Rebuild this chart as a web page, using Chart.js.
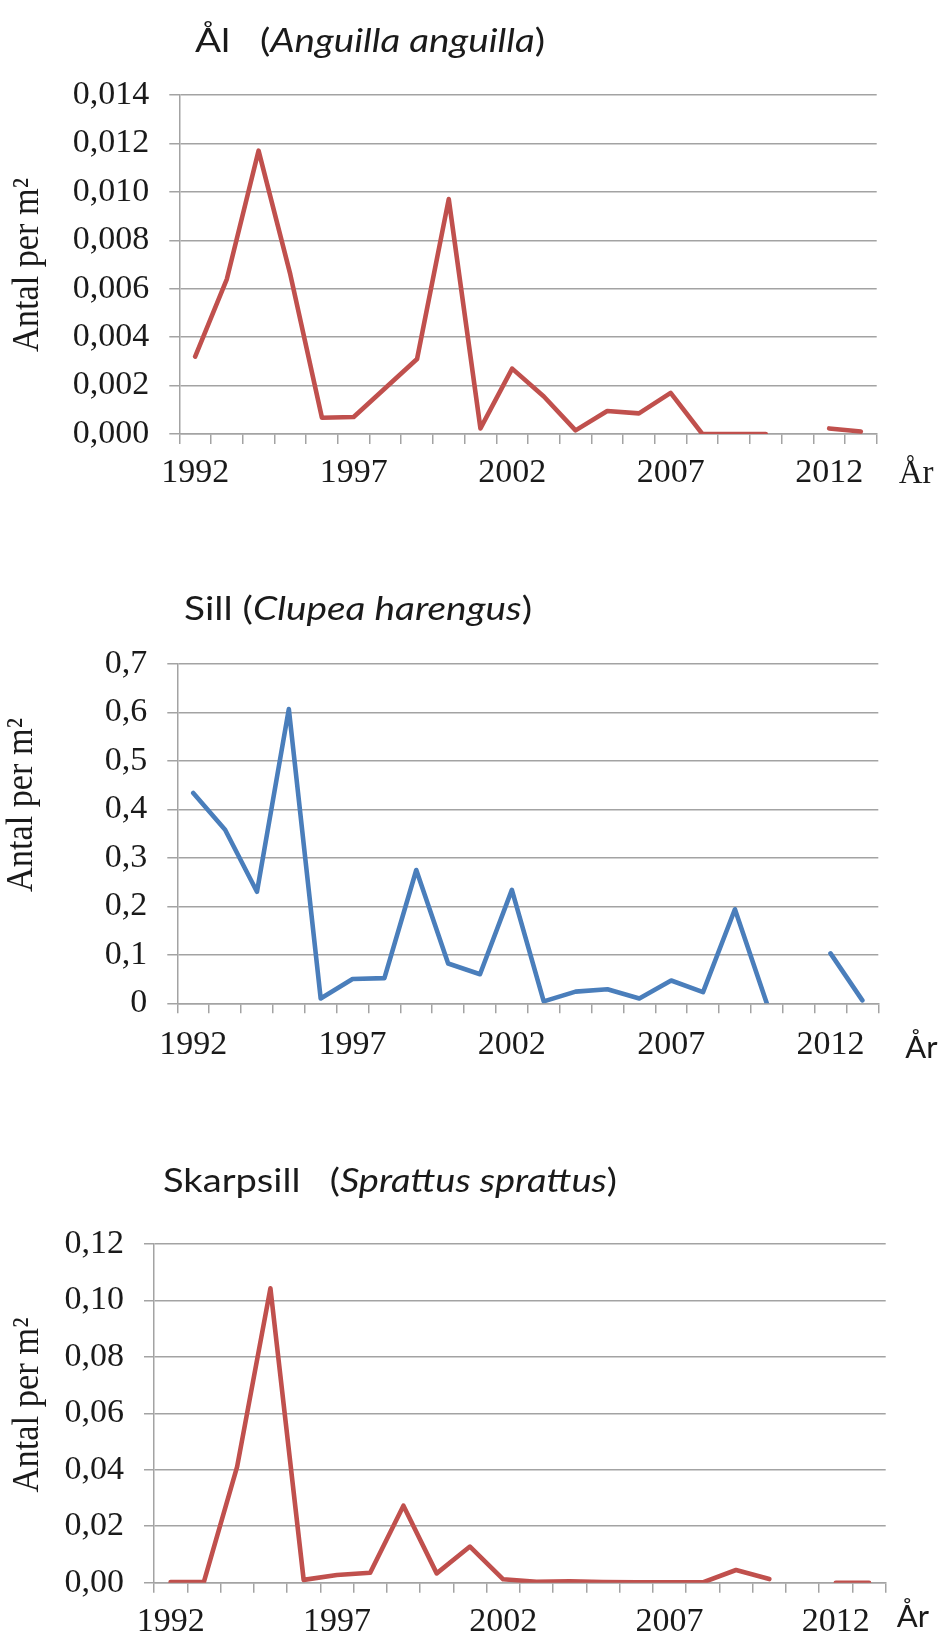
<!DOCTYPE html>
<html>
<head>
<meta charset="utf-8">
<script src="https://cdn.jsdelivr.net/npm/chart.js@4.4.1/dist/chart.umd.min.js"></script>
<style>
  html, body { margin: 0; padding: 0; background: #fff; }
  #page { position: relative; width: 940px; height: 1638px; overflow: hidden; }
  canvas { position: absolute; left: 0; }
</style>
</head>
<body>
<div id="page">
  <canvas id="alChart" width="940" height="520" style="top:0px"></canvas>
  <canvas id="sillChart" width="940" height="530" style="top:560px"></canvas>
  <canvas id="skarpChart" width="940" height="498" style="top:1140px"></canvas>
</div>
<script>
// years on the category axis, only every fifth one gets a label
const years = [1992, 1993, 1994, 1995, 1996, 1997, 1998, 1999, 2000, 2001, 2002,
               2003, 2004, 2005, 2006, 2007, 2008, 2009, 2010, 2011, 2012, 2013];
const shownYears = [1992, 1997, 2002, 2007, 2012];

// Ål (Anguilla anguilla), antal per m2
const al = [0.0032, 0.0064, 0.0117, 0.0066, 0.00067, 0.0007, 0.0019, 0.0031, 0.0097, 0.00023, 0.0027,
            0.00155, 0.00015, 0.00095, 0.00085, 0.0017, 0, 0, 0, null, 0.00023, 0.0001];
// Sill (Clupea harengus)
const sill = [0.434, 0.358, 0.230, 0.607, 0.010, 0.050, 0.052, 0.275, 0.082, 0.060, 0.234,
              0.004, 0.024, 0.029, 0.010, 0.047, 0.023, 0.194, 0, null, 0.103, 0.006];
// Skarpsill (Sprattus sprattus)
const skarpsill = [0.0002, 0.0003, 0.0411, 0.1043, 0.001, 0.0027, 0.0035, 0.0273, 0.0033, 0.0128, 0.0012,
                   0.0003, 0.0005, 0.0002, 0.0001, 0.0001, 0.0001, 0.0045, 0.0013, null, 0, 0];

const alTicks = ['0,000', '0,002', '0,004', '0,006', '0,008', '0,010', '0,012', '0,014'];
const sillTicks = ['0', '0,1', '0,2', '0,3', '0,4', '0,5', '0,6', '0,7'];
const skarpTicks = ['0,00', '0,02', '0,04', '0,06', '0,08', '0,10', '0,12'];

const RED = '#c0504d';
const BLUE = '#4a7ebb';
const GRID = '#a3a3a3';
const INK = '#1a1a1a';
const SERIF = '"Liberation Serif", "Times New Roman", serif';
const SANS = 'Lato, "Open Sans", sans-serif';

Chart.defaults.animation = false;

// species title (regular + italic parts), y axis title and the "År" label
const extraText = {
  id: 'extraText',
  afterDraw(chart, args, o) {
    const ctx = chart.ctx;
    const a = chart.chartArea;
    ctx.save();
    ctx.fillStyle = INK;
    ctx.textBaseline = 'alphabetic';
    ctx.textAlign = 'left';
    let w = 0;
    o.title.forEach(p => {
      ctx.font = (p.italic ? 'italic ' : '') + o.titleSize + 'px ' + SANS;
      w += ctx.measureText(p.text).width;
    });
    ctx.translate(o.titleX, o.titleY);
    ctx.scale(o.titleWidth / w, 1);
    let x = 0;
    o.title.forEach(p => {
      ctx.font = (p.italic ? 'italic ' : '') + o.titleSize + 'px ' + SANS;
      ctx.fillText(p.text, x, 0);
      x += ctx.measureText(p.text).width;
    });
    ctx.setTransform(1, 0, 0, 1, 0, 0);

    // rotated y title, a bit condensed like the original
    ctx.font = '38px ' + SERIF;
    const yt = 'Antal per m²';
    const yw = ctx.measureText(yt).width;
    ctx.translate(o.yTitleX, o.yTitleY);
    ctx.rotate(-Math.PI / 2);
    ctx.scale(o.yTitleLen / yw, 1);
    ctx.textAlign = 'center';
    ctx.textBaseline = 'middle';
    ctx.fillText(yt, 0, 0);
    ctx.setTransform(1, 0, 0, 1, 0, 0);

    ctx.textAlign = 'left';
    ctx.textBaseline = 'alphabetic';
    ctx.font = o.arSize + 'px ' + o.arFont;
    ctx.fillText('År', a.right + o.arDx, a.bottom + o.arDy);
    ctx.restore();
  }
};

function makeChart(id, c) {
  const step = c.step;
  return new Chart(document.getElementById(id), {
    type: 'line',
    data: {
      labels: years,
      datasets: [{
        data: c.values,
        borderColor: c.color,
        borderWidth: 4.6,
        pointRadius: 0,
        tension: 0,
        spanGaps: false,
        borderJoinStyle: 'round',
        borderCapStyle: 'round'
      }]
    },
    options: {
      responsive: false,
      events: [],
      layout: { padding: { left: 0, top: c.padTop, right: c.padRight, bottom: 0 } },
      plugins: {
        legend: { display: false },
        tooltip: { enabled: false },
        extraText: c.text
      },
      scales: {
        x: {
          type: 'category',
          offset: true,
          grid: { offset: true, drawOnChartArea: false, drawTicks: true, tickLength: 10, color: GRID, lineWidth: 1.5 },
          border: { display: true, color: GRID, width: 1.5 },
          ticks: {
            autoSkip: false, maxRotation: 0, minRotation: 0, padding: c.xPad,
            color: INK, font: { family: SERIF, size: 34, lineHeight: 1.2 },
            callback: (v, i) => shownYears.includes(years[i]) ? String(years[i]) : ''
          },
          afterFit: s => { s.height = c.xHeight; }
        },
        y: {
          min: 0,
          max: step * (c.ticks.length - 1),
          afterBuildTicks: s => { s.ticks = c.ticks.map((t, i) => ({ value: i * step })); },
          grid: { color: GRID, lineWidth: 1.5, tickLength: 10 },
          border: { display: true, color: GRID, width: 1.5 },
          ticks: {
            padding: 20, color: INK,
            font: { family: SERIF, size: 34, lineHeight: 1.2 },
            callback: (v, i) => c.ticks[i]
          },
          afterFit: s => { s.width = c.yWidth; }
        }
      }
    },
    plugins: [extraText]
  });
}

makeChart('alChart', {
  values: al, color: RED, ticks: alTicks, step: 0.002,
  padTop: 95, padRight: 63.3, xHeight: 86, yWidth: 179.3, xPad: 9,
  text: {
    title: [{ text: 'Ål   (' }, { text: 'Anguilla anguilla', italic: true }, { text: ')' }],
    titleX: 195, titleY: 52, titleSize: 32, titleWidth: 350,
    yTitleX: 28, yTitleY: 265, yTitleLen: 174,
    arFont: SERIF, arSize: 33, arDx: 22, arDy: 49
  }
});

makeChart('sillChart', {
  values: sill, color: BLUE, ticks: sillTicks, step: 0.1,
  padTop: 104, padRight: 61.7, xHeight: 86.7, yWidth: 177.3, xPad: 11,
  text: {
    title: [{ text: 'Sill (' }, { text: 'Clupea harengus', italic: true }, { text: ')' }],
    titleX: 184, titleY: 60, titleSize: 32, titleWidth: 348,
    yTitleX: 22, yTitleY: 245, yTitleLen: 174,
    arFont: SANS, arSize: 31, arDx: 27, arDy: 55
  }
});

makeChart('skarpChart', {
  values: skarpsill, color: RED, ticks: skarpTicks, step: 0.02,
  padTop: 104, padRight: 54.3, xHeight: 55.3, yWidth: 154, xPad: 9,
  text: {
    title: [{ text: 'Skarpsill   (' }, { text: 'Sprattus sprattus', italic: true }, { text: ')' }],
    titleX: 163, titleY: 52, titleSize: 32, titleWidth: 454,
    yTitleX: 28, yTitleY: 265, yTitleLen: 175,
    arFont: SANS, arSize: 31, arDx: 11, arDy: 44
  }
});
</script>
</body>
</html>
